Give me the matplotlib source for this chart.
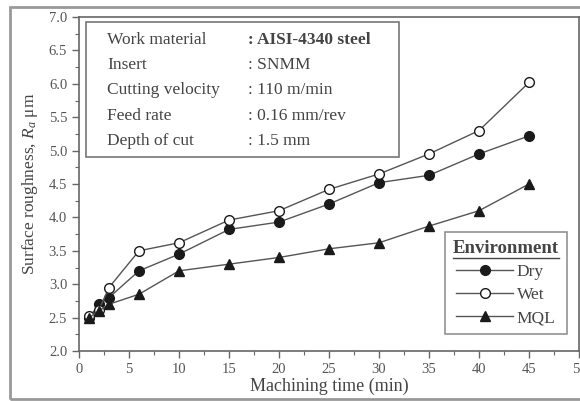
import matplotlib
matplotlib.use("Agg")
import matplotlib.pyplot as plt
from matplotlib.patches import Rectangle
from matplotlib.lines import Line2D
from matplotlib.ticker import MultipleLocator

plt.rcParams['font.family'] = ['Liberation Serif', 'DejaVu Serif']
plt.rcParams['mathtext.fontset'] = 'custom'
plt.rcParams['mathtext.rm'] = 'Liberation Serif'
plt.rcParams['mathtext.it'] = 'Liberation Serif:italic'

# machining time (min)
timeMin = [1, 2, 3, 6, 10, 15, 20, 25, 30, 35, 40, 45]

# surface roughness (um)
dry = [2.50, 2.70, 2.80, 3.20, 3.45, 3.82, 3.93, 4.20, 4.52, 4.63, 4.95, 5.22]
wet = [2.52, 2.62, 2.95, 3.50, 3.62, 3.96, 4.10, 4.42, 4.65, 4.95, 5.30, 6.02]
mql = [2.50, 2.60, 2.70, 2.85, 3.20, 3.30, 3.40, 3.53, 3.62, 3.87, 4.10, 4.50]

infoLabels = ["Work material", "Insert", "Cutting velocity", "Feed rate", "Depth of cut"]
infoValues = [": AISI-4340 steel", ": SNMM", ": 110 m/min", ": 0.16 mm/rev", ": 1.5 mm"]

txt = "#444444"
lineCol = "#555555"
mk = "#1a1a1a"

fig = plt.figure(figsize=(5.8, 4.01), dpi=100)
ax = fig.add_axes([79/580, 50/401, 500/580, 334/401])

# outer frame of the picture
fig.patches.append(Rectangle((10/580, 2/401), 0.99, 392/401, transform=fig.transFigure,
                             fill=False, edgecolor="#999999", linewidth=2.0))

ax.plot(timeMin, dry, color=lineCol, lw=1.0, marker="o", ms=7, mfc=mk, mec=mk, label="Dry")
ax.plot(timeMin, wet, color=lineCol, lw=1.0, marker="o", ms=7, mfc="white", mec=mk, mew=1.0, label="Wet")
ax.plot(timeMin, mql, color=lineCol, lw=1.0, marker="^", ms=7, mfc=mk, mec=mk, label="MQL")

ax.set_xlim(0, 50)
ax.set_ylim(2.0, 7.0)
ax.xaxis.set_major_locator(MultipleLocator(5))
ax.xaxis.set_minor_locator(MultipleLocator(2.5))
ax.yaxis.set_major_locator(MultipleLocator(0.5))
ax.yaxis.set_minor_locator(MultipleLocator(0.25))
ax.yaxis.set_major_formatter(matplotlib.ticker.FormatStrFormatter("%.1f"))
ax.tick_params(which="major", direction="out", length=5, width=1, colors="#666666",
               labelcolor="#555555", labelsize=10.5)
ax.tick_params(which="minor", direction="out", length=3, width=0.8, colors="#666666")
for s in ax.spines.values():
    s.set_color("#666666")
    s.set_linewidth(1.2)

ax.set_xlabel("Machining time (min)", fontsize=13, color=txt, labelpad=1)
ax.set_ylabel("Surface roughness, $R_a$ \u03bcm", fontsize=12.5, color=txt, labelpad=6)

# info box
ax.add_patch(Rectangle((0.7, 4.9), 31.3, 2.02, fill=False, edgecolor="#777777", lw=1.2))
ys = [6.66, 6.28, 5.90, 5.52, 5.14]
for lab, val, y in zip(infoLabels, infoValues, ys):
    ax.text(2.8, y, lab, fontsize=12.5, color=txt, va="center")
    ax.text(16.9, y, val, fontsize=12.5, color=txt, va="center",
            fontweight="bold" if "AISI" in val else "normal")

leg = ax.legend(loc="lower right", bbox_to_anchor=(0.993, 0.025), title="Environment",
                fontsize=12.5, frameon=True, fancybox=False, edgecolor="#777777",
                handlelength=3.3, borderpad=0.45, labelspacing=0.4, handletextpad=0.2)
leg.get_frame().set_linewidth(1.2)
t = leg.get_title()
t.set_fontweight("bold")
t.set_fontsize(13.5)
t.set_color(txt)
for tx in leg.get_texts():
    tx.set_color(txt)

# underline the legend title
fig.canvas.draw()
bb = t.get_window_extent().transformed(fig.transFigure.inverted())
fig.add_artist(Line2D([bb.x0, bb.x1], [bb.y0 - 0.002, bb.y0 - 0.002], transform=fig.transFigure,
                      color=txt, lw=1.0))

fig.savefig("out.png", dpi=100)
